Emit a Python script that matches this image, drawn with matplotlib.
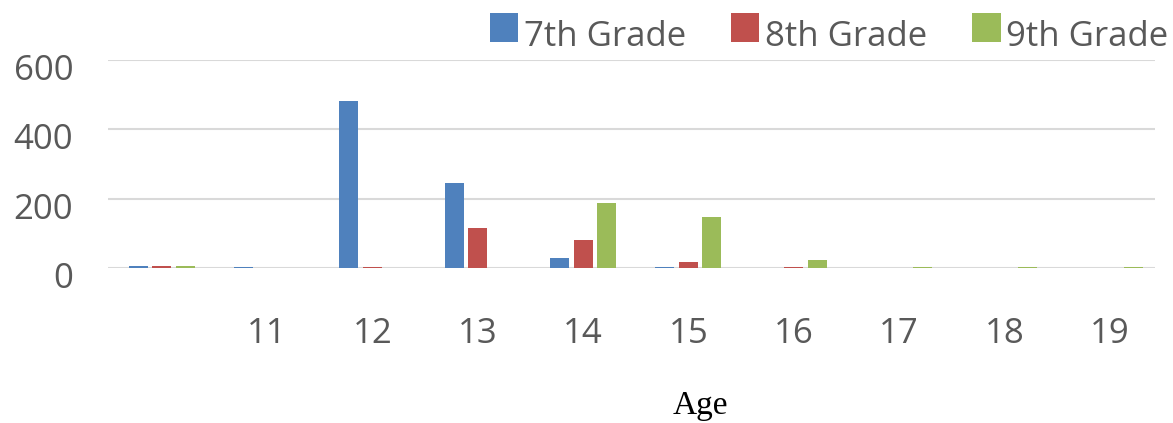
import numpy as np
import matplotlib.pyplot as plt
from matplotlib.transforms import ScaledTranslation

# pupils per age, split by grade
ages = ['', '11', '12', '13', '14', '15', '16', '17', '18', '19']
grade7 = [6, 2, 482, 245, 29, 2, 0, 0, 0, 0]
grade8 = [6, 0, 2, 115, 81, 17, 2, 0, 0, 0]
grade9 = [6, 0, 0, 0, 187, 147, 23, 2, 2, 2]
series = ['7th Grade', '8th Grade', '9th Grade']
colors = ['#4F81BD', '#C0504D', '#9BBB59']

plt.rcParams['font.family'] = ['Open Sans', 'DejaVu Sans']
txt = '#595959'

fig = plt.figure(figsize=(11.73, 4.23), dpi=100)
ax = fig.add_axes([108/1173, 1-268/423, 1047/1173, 208/423])

x = np.arange(len(ages))
w = 0.18
step = 0.223
for i, (vals, name, c) in enumerate(zip([grade7, grade8, grade9], series, colors)):
    ax.bar(x + (i-1)*step, vals, width=w, color=c, label=name, zorder=3)

ax.set_xlim(-0.51, 9.43)
ax.set_ylim(0, 600)
ax.set_yticks([0, 200, 400, 600])
ax.set_xticks(x)
ax.set_xticklabels(ages)
ax.grid(axis='y', color='#d9d9d9', linewidth=1.5, zorder=0)
ax.set_axisbelow(True)
for s in ax.spines.values():
    s.set_visible(False)
ax.tick_params(axis='both', length=0, labelsize=25, labelcolor=txt)
ax.tick_params(axis='y', pad=25)
ax.tick_params(axis='x', pad=35)
off = ScaledTranslation(0, -7/100, fig.dpi_scale_trans)
for lbl in ax.get_yticklabels():
    lbl.set_transform(lbl.get_transform() + off)

leg = fig.legend(loc='center right', bbox_to_anchor=(1168/1173, 1-37/423), ncol=3,
                 frameon=False, fontsize=25, handlelength=0.82, handleheight=0.9,
                 handletextpad=0.15, columnspacing=1.3, borderpad=0, borderaxespad=0)
for t in leg.get_texts():
    t.set_color(txt)
for p in leg.get_patches():
    p.set_y(p.get_y() + 5)

fig.text(700/1173, 1-406/423, 'Age', ha='center', va='center',
         family='Liberation Serif', fontsize=24, color='black')

fig.savefig('out.png', dpi=100)
